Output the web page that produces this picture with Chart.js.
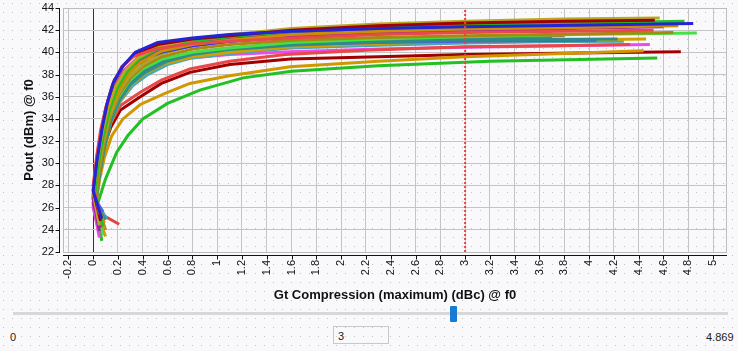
<!DOCTYPE html>
<html><head><meta charset="utf-8">
<script src="https://cdn.jsdelivr.net/npm/chart.js@4.4.1/dist/chart.umd.min.js"></script>
<style>
html,body{margin:0;padding:0;}
body{width:738px;height:351px;overflow:hidden;position:relative;background-color:#f9f9fb;
background-image:url("data:image/svg+xml,%3Csvg xmlns='http://www.w3.org/2000/svg' width='9' height='9'%3E%3Crect x='3' y='3' width='1' height='1' fill='%23c4c4c4'/%3E%3C/svg%3E");
font-family:"Liberation Sans",Arial,sans-serif;}
#wrap{position:absolute;left:0;top:0;width:738px;height:305px;}
.track{position:absolute;left:13px;top:312px;width:715px;height:3px;background:#d8d8d8;}
.handle{position:absolute;top:306px;width:7px;height:16px;background:#1a7bd4;border-radius:1px;}
.lbl{position:absolute;font-size:11px;color:#222;}
.box{position:absolute;left:333px;top:326px;width:56px;height:18px;border:1px solid #c8c8c8;box-sizing:border-box;font-size:11px;color:#222;padding:3px 0 0 4px;}
</style></head>
<body>
<div id="wrap"><canvas id="c" width="738" height="305"></canvas></div>
<div class="track"></div>
<div class="handle" id="handle"></div>
<div class="lbl" id="minLbl" style="left:10px;top:331px;"></div>
<div class="box" id="valBox"></div>
<div class="lbl" id="maxLbl" style="left:706px;top:331px;"></div>
<script>
// ---------- data ----------
const sliderMin = 0;
const sliderMax = 4.869;
const cursorValue = 3;
const xTickStep = 0.2;
const yTickStep = 2;
const yMin = 22, yMax = 44;

const seriesColors = [
  '#2424d6', '#e84a4a', '#a00000', '#b8a824', '#22c022', '#c89000',
  '#a020a8', '#8a2aa0', '#3434e0', '#e050e0', '#b0a030', '#a88810',
  '#44e044', '#2f8a8a', '#309090', '#4860e8', '#d4a000', '#4aa8b0',
  '#e04444', '#e84848', '#f048f0', '#d09800', '#a00000', '#22c022'
];

const gtCompression = [
  [0.07,0.0,0.03,0.07,0.11,0.16,0.234,0.34,0.52,0.8,1.1,1.6,2.3,3.0,3.9,4.84],
  [0.05,0.0,0.03,0.06,0.1,0.15,0.23,0.32,0.5,0.8,1.1,1.6,2.3,3.0,3.8,4.52],
  [0.06,0.0,0.03,0.07,0.12,0.17,0.25,0.35,0.52,0.8,1.1,1.6,2.3,3.0,3.8,4.53],
  [0.05,0.0,0.03,0.07,0.12,0.18,0.26,0.36,0.52,0.8,1.1,1.6,2.3,3.0,3.8,4.57],
  [0.08,0.01,0.04,0.08,0.13,0.19,0.27,0.37,0.52,0.8,1.1,1.6,2.3,3.0,3.9,4.77],
  [0.09,0.01,0.04,0.08,0.13,0.2,0.28,0.38,0.55,0.8,1.1,1.6,2.3,3.0,3.9,4.72],
  [0.06,0.0,0.03,0.06,0.1,0.16,0.24,0.35,0.52,0.8,1.1,1.6,2.3,3.0,3.8,4.6],
  [0.05,0.0,0.03,0.07,0.12,0.18,0.26,0.36,0.52,0.8,1.1,1.6,2.3,3.0,3.6],
  [0.06,0.0,0.03,0.07,0.12,0.18,0.27,0.38,0.55,0.8,1.1,1.6,2.3,3.0,3.7],
  [0.05,0.0,0.03,0.06,0.1,0.16,0.24,0.34,0.5,0.8,1.1,1.6,2.3,3.0,3.7],
  [0.09,0.01,0.04,0.08,0.13,0.2,0.29,0.4,0.56,0.8,1.1,1.6,2.3,3.0,3.9],
  [0.1,0.02,0.05,0.09,0.14,0.21,0.3,0.4,0.55,0.8,1.1,1.6,2.3,3.0,3.9,4.68],
  [0.08,0.01,0.04,0.08,0.13,0.2,0.29,0.4,0.56,0.8,1.1,1.6,2.3,3.0,3.9,4.869],
  [0.07,0.0,0.04,0.08,0.13,0.2,0.3,0.42,0.58,0.8,1.1,1.6,2.3,3.0,3.6,4.23],
  [0.1,0.02,0.05,0.09,0.14,0.21,0.3,0.42,0.6,0.8,1.1,1.6,2.3,3.0,3.7],
  [0.08,0.01,0.04,0.08,0.13,0.2,0.3,0.4,0.52,0.8,1.1,1.6,2.3,3.0,3.5,4.06],
  [0.1,0.02,0.05,0.09,0.14,0.21,0.3,0.42,0.58,0.8,1.1,1.6,2.3,3.0,3.7,4.46],
  [0.11,0.02,0.05,0.09,0.14,0.22,0.32,0.44,0.6,0.8,1.1,1.6,2.3,3.0,3.6,4.28],
  [0.21,0.08,0.02,0.05,0.09,0.14,0.21,0.3,0.42,0.6,0.8,1.1,1.6,2.3,3.0,3.8],
  [0.06,0.0,0.04,0.08,0.14,0.22,0.38,0.55,0.78,1.1,1.55,2.2,3.0,3.7,4.33],
  [0.05,0.0,0.03,0.06,0.1,0.16,0.24,0.38,0.55,0.78,1.1,1.59,2.3,3.0,3.8,4.49],
  [0.08,0.02,0.05,0.09,0.15,0.24,0.38,0.58,0.78,1.1,1.59,2.3,3.0,3.8,4.44],
  [0.07,0.0,0.04,0.08,0.14,0.22,0.38,0.55,0.78,1.1,1.59,2.3,3.0,3.9,4.74],
  [0.07,0.02,0.06,0.1,0.19,0.28,0.4,0.6,0.86,1.21,1.6,2.3,3.2,4.55]
];

const poutDbm = [
  [25.0,27.5,30.2,33.0,35.3,37.2,38.7,40.0,40.9,41.3,41.6,41.9,42.15,42.3,42.45,42.6],
  [25.4,28.0,30.8,33.0,34.9,36.9,38.7,39.6,40.3,40.8,41.0,41.3,41.6,41.8,41.9,42.0],
  [24.8,27.6,30.5,33.3,35.7,37.5,38.9,39.9,40.7,41.2,41.5,42.0,42.4,42.65,42.8,42.9],
  [24.4,27.3,30.0,32.6,35.0,36.9,38.4,39.5,40.5,41.2,41.6,42.15,42.55,42.8,43.0,43.1],
  [24.3,27.0,29.8,32.4,34.8,36.7,38.2,39.4,40.3,41.0,41.4,41.9,42.25,42.5,42.65,42.8],
  [24.6,26.9,29.6,32.2,34.6,36.5,38.0,39.1,40.1,40.7,41.1,41.6,41.9,42.1,42.25,42.4],
  [24.2,26.4,29.2,32.0,34.6,36.6,38.1,39.3,40.2,40.8,41.1,41.5,41.75,41.95,42.15,42.3],
  [23.9,26.8,29.7,32.5,35.0,36.9,38.4,39.5,40.4,41.0,41.35,41.75,42.05,42.2,42.3],
  [24.7,27.0,29.9,32.5,34.9,36.9,38.3,39.3,40.0,40.6,41.0,41.4,41.7,41.85,41.95],
  [23.7,26.0,29.3,32.3,35.0,36.9,38.3,39.3,40.0,40.6,41.0,41.4,41.7,41.85,41.95],
  [24.1,26.5,29.2,31.8,34.2,36.2,37.8,38.9,39.9,40.6,41.0,41.45,41.8,42.0,42.15],
  [24.0,26.6,29.3,31.9,34.3,36.2,37.7,38.7,39.6,40.3,40.7,41.1,41.35,41.5,41.65,41.8],
  [23.5,26.1,28.9,31.6,34.0,35.9,37.4,38.5,39.4,40.0,40.4,40.9,41.2,41.4,41.6,41.75],
  [25.2,27.2,29.6,31.9,34.0,35.8,37.3,38.4,39.3,39.9,40.3,40.7,40.95,41.1,41.15,41.2],
  [24.9,26.3,28.8,31.3,33.7,35.6,37.1,38.2,39.2,39.8,40.25,40.65,40.95,41.15,41.25],
  [25.6,26.9,29.5,32.0,34.2,36.6,38.7,39.1,39.3,39.9,40.3,40.7,40.9,41.0,41.05,41.1],
  [23.4,26.0,28.6,31.2,33.6,35.5,37.0,38.1,39.0,39.6,40.0,40.5,40.8,41.0,41.1,41.2],
  [25.0,26.6,29.0,31.5,33.8,35.6,37.0,38.0,38.9,39.5,39.9,40.4,40.65,40.85,40.95,41.0],
  [24.5,25.3,26.3,29.0,31.6,34.0,35.9,37.4,38.5,39.4,40.0,40.4,40.85,41.15,41.35,41.5],
  [24.0,27.0,29.5,31.6,33.6,35.2,36.4,37.5,38.5,39.2,39.8,40.2,40.5,40.6,40.7],
  [23.3,26.2,29.0,32.0,34.6,36.0,37.0,38.4,39.1,39.5,39.8,40.05,40.3,40.45,40.6,40.7],
  [23.6,26.5,28.5,30.5,32.5,34.0,35.3,36.3,37.2,37.9,38.7,39.2,39.6,39.9,40.15],
  [23.8,26.8,29.0,31.2,33.2,34.8,36.0,37.2,38.2,38.9,39.4,39.6,39.8,39.95,40.06],
  [23.0,25.8,27.2,28.6,31.0,32.5,34.0,35.4,36.6,37.7,38.3,38.8,39.2,39.5]
];

// ---------- chart ----------
const datasets = gtCompression.map((xs, i) => ({
  data: xs.map((x, j) => ({x: x, y: poutDbm[i][j]})),
  borderColor: seriesColors[i],
  borderWidth: 3,
  pointRadius: 0,
  showLine: true,
  fill: false,
  tension: 0
}));
datasets.push({
  data: [{x: cursorValue, y: yMin}, {x: cursorValue, y: yMax}],
  borderColor: '#ee4040',
  borderWidth: 2,
  borderDash: [2, 2],
  pointRadius: 0,
  showLine: true,
  order: -1
});

const fmt = v => { const r = Math.round(v * 10) / 10; return (Object.is(r, -0) ? 0 : r).toString(); };

const framePlugin = {
  id: 'frame',
  afterDraw(chart) {
    const {ctx, chartArea: a, scales: {x, y}} = chart;
    ctx.save();
    ctx.strokeStyle = '#bcbcbc';
    ctx.lineWidth = 1;
    ctx.strokeRect(a.left + 0.5, a.top + 0.5, a.right - a.left - 1, a.bottom - a.top);
    ctx.strokeStyle = '#111';
    ctx.lineWidth = 1;
    const ax = Math.round(a.left) - 4 + 0.5;
    ctx.beginPath();
    ctx.moveTo(ax, a.top); ctx.lineTo(ax, a.bottom + 1);
    y.ticks.forEach(t => { const py = Math.round(y.getPixelForValue(t.value)) + 0.5; ctx.moveTo(ax - 4, py); ctx.lineTo(ax, py); });
    const ay = Math.round(a.bottom) + 3 + 0.5;
    ctx.moveTo(a.left, ay); ctx.lineTo(a.right, ay);
    x.ticks.forEach(t => { const px = Math.round(x.getPixelForValue(t.value)) + 0.5; ctx.moveTo(px, ay); ctx.lineTo(px, ay + 4); });
    ctx.stroke();
    ctx.restore();
  }
};

new Chart(document.getElementById('c'), {
  type: 'scatter',
  data: {datasets},
  plugins: [framePlugin],
  options: {
    responsive: false,
    devicePixelRatio: 1,
    animation: false,
    layout: {padding: {left: 0, right: 11, top: 8, bottom: 2}},
    plugins: {legend: {display: false}, tooltip: {enabled: false}},
    scales: {
      x: {
        type: 'linear',
        min: sliderMin - 0.05 * sliderMax,
        max: sliderMax * 1.05,
        afterFit: s => { s.height = 51; s.paddingLeft = 0; s.paddingRight = 0; },
        border: {display: false},
        grid: {
          drawTicks: false,
          lineWidth: 1,
          color: c => (c.tick && Math.abs(c.tick.value) < 1e-9) ? '#333333' : '#c4c4c4'
        },
        ticks: {
          stepSize: xTickStep,
          includeBounds: false,
          autoSkip: false,
          minRotation: 90,
          maxRotation: 90,
          padding: 8,
          color: '#111',
          font: {family: 'Liberation Sans', size: 11},
          callback: v => fmt(v)
        },
        title: {
          display: true,
          text: 'Gt Compression (maximum) (dBc) @ f0',
          color: '#111',
          font: {family: 'Liberation Sans', size: 13, weight: 'bold'},
          padding: {top: 0, bottom: 0}
        }
      },
      y: {
        type: 'linear',
        min: yMin,
        max: yMax,
        afterFit: s => { s.width = 63; s.paddingTop = 0; s.paddingBottom = 0; },
        border: {display: false},
        grid: {drawTicks: false, lineWidth: 1, color: '#c4c4c4'},
        ticks: {
          stepSize: yTickStep,
          padding: 9,
          color: '#111',
          font: {family: 'Liberation Sans', size: 11},
          callback: v => fmt(v)
        },
        title: {
          display: true,
          text: 'Pout (dBm) @ f0',
          color: '#111',
          font: {family: 'Liberation Sans', size: 13, weight: 'bold'},
          padding: {top: 22, bottom: 0}
        }
      }
    }
  }
});

// ---------- slider ----------
const trackLeft = 13, trackWidth = 715;
document.getElementById('handle').style.left = (trackLeft + (cursorValue - sliderMin) / (sliderMax - sliderMin) * trackWidth - 3.5) + 'px';
document.getElementById('minLbl').textContent = String(sliderMin);
document.getElementById('maxLbl').textContent = String(sliderMax);
document.getElementById('valBox').textContent = String(cursorValue);
</script>
</body></html>
